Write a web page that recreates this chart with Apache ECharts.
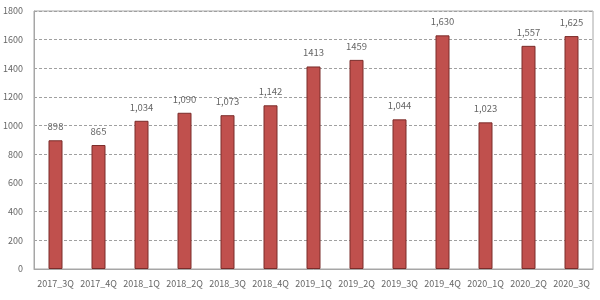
<!DOCTYPE html>
<html>
<head>
<meta charset="utf-8">
<script src="https://cdn.jsdelivr.net/npm/echarts@6/dist/echarts.min.js"></script>
<style>
  html, body { margin: 0; padding: 0; background: #fff; }
  #chart { width: 600px; height: 300px; }
</style>
</head>
<body>
<div id="chart"></div>
<script>
const quarters = ["2017_3Q", "2017_4Q", "2018_1Q", "2018_2Q", "2018_3Q", "2018_4Q", "2019_1Q",
  "2019_2Q", "2019_3Q", "2019_4Q", "2020_1Q", "2020_2Q", "2020_3Q"]
const counts = [898, 865, 1034, 1090, 1073, 1142, 1413, 1459, 1044, 1630, 1023, 1557, 1625]
// labels as printed on the chart (two of them have no thousands separator)
const countLabels = ["898", "865", "1,034", "1,090", "1,073", "1,142", "1413", "1459",
  "1,044", "1,630", "1,023", "1,557", "1,625"]

const font = "'Noto Sans CJK KR', 'Noto Sans', sans-serif"
const chart = echarts.init(document.getElementById("chart"), null, { renderer: "canvas" })

chart.setOption({
  animation: false,
  backgroundColor: "#fff",
  grid: {
    left: 34, right: 7, top: 11, bottom: 31,
    show: true,
    borderColor: "#a6a6a6",
    borderWidth: 1,
  },
  xAxis: {
    type: "category",
    data: quarters,
    axisLine: { lineStyle: { color: "#a6a6a6" } },
    axisTick: { show: false },
    axisLabel: { color: "#666", fontSize: 9, fontFamily: font, margin: 10, interval: 0 },
  },
  yAxis: {
    type: "value",
    min: 0,
    max: 1800,
    interval: 200,
    axisLine: { show: true, lineStyle: { color: "#a6a6a6" } },
    axisTick: { show: false },
    axisLabel: { color: "#666", fontSize: 9, fontFamily: font, margin: 11, formatter: (v) => String(v) },
    splitLine: { lineStyle: { color: "#a0a0a0", type: [3, 2] } },
  },
  series: [{
    type: "bar",
    data: counts,
    barWidth: 14,
    itemStyle: { color: "#c0504d", borderColor: "#7a2c2a", borderWidth: 1 },
    label: {
      show: true,
      position: "top",
      distance: 9,
      color: "#666",
      fontSize: 9.5,
      fontFamily: font,
      formatter: (p) => countLabels[p.dataIndex],
    },
  }],
})
</script>
</body>
</html>
